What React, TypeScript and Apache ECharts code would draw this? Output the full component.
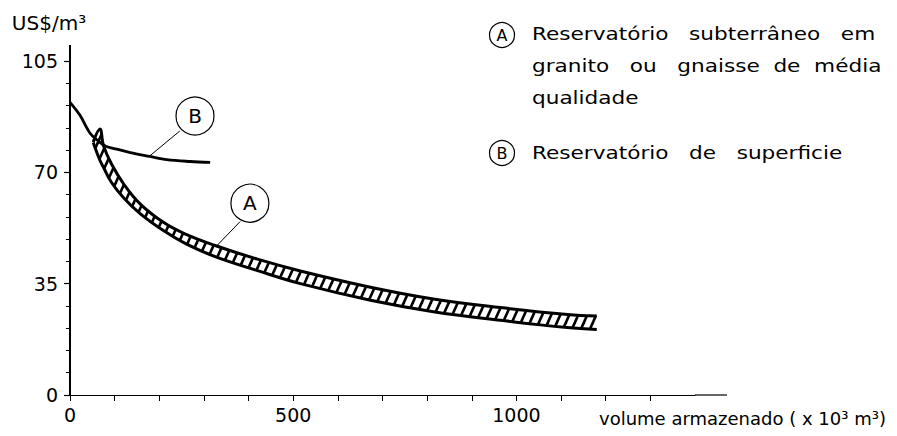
import React, { useEffect, useRef } from "react";
import * as echarts from "echarts";

// ---- data ----
// Curve B: surface reservoir
const bX = [0, 22, 45, 62, 80, 105, 135, 179, 217, 269, 314];
const bY = [92, 88, 82.3, 80, 78.2, 77.3, 76.2, 75, 74, 73.4, 73.1];

// Curve A: underground reservoir (band between lower and upper edge)
const aX = [52, 67, 75, 93, 120, 157, 210, 260, 325, 420, 516, 673, 814, 964, 1114, 1180];
const aUpper = [79.5, 83.6, 78.4, 72.6, 66.4, 60.1, 54.2, 50.5, 47.0, 42.7, 39.0, 33.9, 30.2, 27.5, 25.3, 24.8];
const aLower = [79.4, 73.8, 71.6, 66.8, 62.0, 57.0, 51.6, 47.5, 43.5, 39.1, 35.0, 29.8, 26.2, 23.5, 21.2, 20.6];

const xLabeled = [0, 500, 1000];
const yMajor = [0, 35, 70, 105];

// annotation bubbles (data coordinates)
const bubbleA = { center: [403, 60.3], from: [381, 54.5], to: [328, 46.8] };
const bubbleB = { center: [280, 87.7], from: [246, 83], to: [179, 75.2] };

const legendLinesA = [
  "Reservatório   subterrâneo   em",
  "granito   ou   gnaisse  de  média",
  "qualidade",
];
const legendLineB = "Reservatório   de   superficie";

const FONT = "DejaVu Sans";

function makeHatch() {
  const w = 9;
  const h = 20;
  const c = document.createElement("canvas");
  c.width = w;
  c.height = h;
  const ctx = c.getContext("2d")!;
  ctx.fillStyle = "#fff";
  ctx.fillRect(0, 0, w, h);
  ctx.strokeStyle = "#000";
  ctx.lineWidth = 2.6;
  for (let k = -1; k <= 1; k++) {
    ctx.beginPath();
    ctx.moveTo(k * w - w, 2 * h);
    ctx.lineTo(k * w + 2 * w, -h);
    ctx.stroke();
  }
  return { image: c, repeat: "repeat", imageWidth: w, imageHeight: h };
}

export default function App() {
  const ref = useRef<HTMLDivElement>(null);

  useEffect(() => {
    if (!ref.current) return;
    const chart = echarts.init(ref.current, undefined, { renderer: "svg" });

    // value first so that stacking happens on the y dimension
    const lowerPairs = aX.map((x, i) => [aLower[i], x]);
    const bandPairs = aX.map((x, i) => [+(aUpper[i] - aLower[i]).toFixed(2), x]);
    const bPairs = bX.map((x, i) => [x, bY[i]]);

    const bubble = (b: any, letter: string) => ({
      coord: b.center,
      symbol: "circle",
      symbolSize: 38,
      itemStyle: { color: "#fff", borderColor: "#000", borderWidth: 1.2 },
      label: {
        show: true,
        position: "inside",
        formatter: letter,
        color: "#000",
        fontSize: 20,
        fontFamily: FONT,
      },
    });

    const legendX = 532;
    const legendTextStyle = (t: string) => ({
      text: t,
      font: `18px "${FONT}"`,
      fill: "#000",
      verticalAlign: "middle",
      align: "left",
    });
    const legendTexts: any[] = legendLinesA.map((t, i) => ({
      type: "text",
      x: legendX,
      y: 34 + i * 32,
      scaleX: 1.2,
      z: 50,
      style: legendTextStyle(t),
    }));

    chart.setOption({
      animation: false,
      backgroundColor: "#fff",
      grid: { left: 70, right: 202, top: 61, bottom: 41, containLabel: false },
      xAxis: {
        type: "value",
        min: 0,
        max: 1400,
        interval: 100,
        z: 10,
        name: "volume armazenado ( x 10³ m³)",
        nameLocation: "end",
        nameGap: -96,
        nameTextStyle: {
          align: "left",
          verticalAlign: "top",
          padding: [14, 0, 0, 0],
          fontSize: 18,
          fontFamily: FONT,
          color: "#000",
        },
        splitLine: { show: false },
        axisLine: {
          show: true,
          lineStyle: { color: "#000", width: 1.2 },
          symbol: ["none", "rect"],
          symbolSize: [1.2, 32],
          symbolOffset: [0, 16],
        },
        axisTick: { show: true, inside: false, length: 6, lineStyle: { color: "#000", width: 1 } },
        axisLabel: {
          margin: 10,
          fontSize: 19,
          fontFamily: FONT,
          color: "#000",
          showMaxLabel: false,
          formatter: (v: number) => (xLabeled.indexOf(v) >= 0 ? String(v) : ""),
        },
      },
      yAxis: {
        type: "value",
        min: 0,
        max: 105,
        interval: 35,
        z: 10,
        name: "US$/m³",
        nameLocation: "end",
        nameGap: 28,
        nameTextStyle: {
          fontSize: 20,
          fontFamily: FONT,
          color: "#000",
          padding: [0, 42, 0, 0],
        },
        splitLine: { show: false },
        axisLine: {
          show: true,
          lineStyle: { color: "#000", width: 2 },
          symbol: ["none", "rect"],
          symbolSize: [2, 16],
          symbolOffset: [0, 8],
        },
        axisTick: { show: true, inside: false, length: 6, lineStyle: { color: "#000", width: 1.2 } },
        minorTick: { show: true, splitNumber: 5, length: 4, lineStyle: { color: "#000", width: 1 } },
        axisLabel: {
          margin: 12,
          fontSize: 19,
          fontFamily: FONT,
          color: "#000",
          formatter: (v: number) => (yMajor.indexOf(v) >= 0 ? String(v) : ""),
        },
      },
      series: [
        {
          type: "line",
          name: "A (inferior)",
          data: lowerPairs,
          encode: { x: 1, y: 0 },
          stack: "A",
          smooth: 0.4,
          symbol: "none",
          lineStyle: { color: "#000", width: 3 },
          silent: true,
          z: 3,
        },
        {
          type: "line",
          name: "A",
          data: bandPairs,
          encode: { x: 1, y: 0 },
          stack: "A",
          smooth: 0.4,
          symbol: "none",
          lineStyle: { color: "#000", width: 3 },
          areaStyle: { color: makeHatch() as any, opacity: 1 },
          silent: true,
          z: 3,
        },
        {
          type: "line",
          name: "B",
          data: bPairs,
          smooth: 0.35,
          symbol: "none",
          lineStyle: { color: "#000", width: 2.8 },
          silent: true,
          z: 5,
          markLine: {
            silent: true,
            symbol: ["none", "none"],
            label: { show: false },
            lineStyle: { color: "#000", width: 1, type: "solid" },
            data: [
              [{ coord: bubbleA.from }, { coord: bubbleA.to }],
              [{ coord: bubbleB.from }, { coord: bubbleB.to }],
            ],
          },
          markPoint: {
            silent: true,
            data: [bubble(bubbleA, "A"), bubble(bubbleB, "B")],
          },
        },
      ],
      graphic: [
        {
          type: "circle",
          shape: { cx: 502, cy: 35, r: 12.5 },
          style: { fill: "#fff", stroke: "#000", lineWidth: 1.2 },
        },
        {
          type: "text",
          x: 502,
          y: 35,
          style: { text: "A", font: `16px "${FONT}"`, fill: "#000", align: "center", verticalAlign: "middle" },
        },
        {
          type: "circle",
          shape: { cx: 502, cy: 153, r: 12.5 },
          style: { fill: "#fff", stroke: "#000", lineWidth: 1.2 },
        },
        {
          type: "text",
          x: 502,
          y: 153,
          style: { text: "B", font: `16px "${FONT}"`, fill: "#000", align: "center", verticalAlign: "middle" },
        },
        ...legendTexts,
        {
          type: "text",
          x: legendX,
          y: 153,
          scaleX: 1.2,
          style: legendTextStyle(legendLineB),
        },
      ],
    });

    return () => chart.dispose();
  }, []);

  return <div ref={ref} style={{ position: "fixed", left: 0, top: 0, width: 897, height: 436 }} />;
}
